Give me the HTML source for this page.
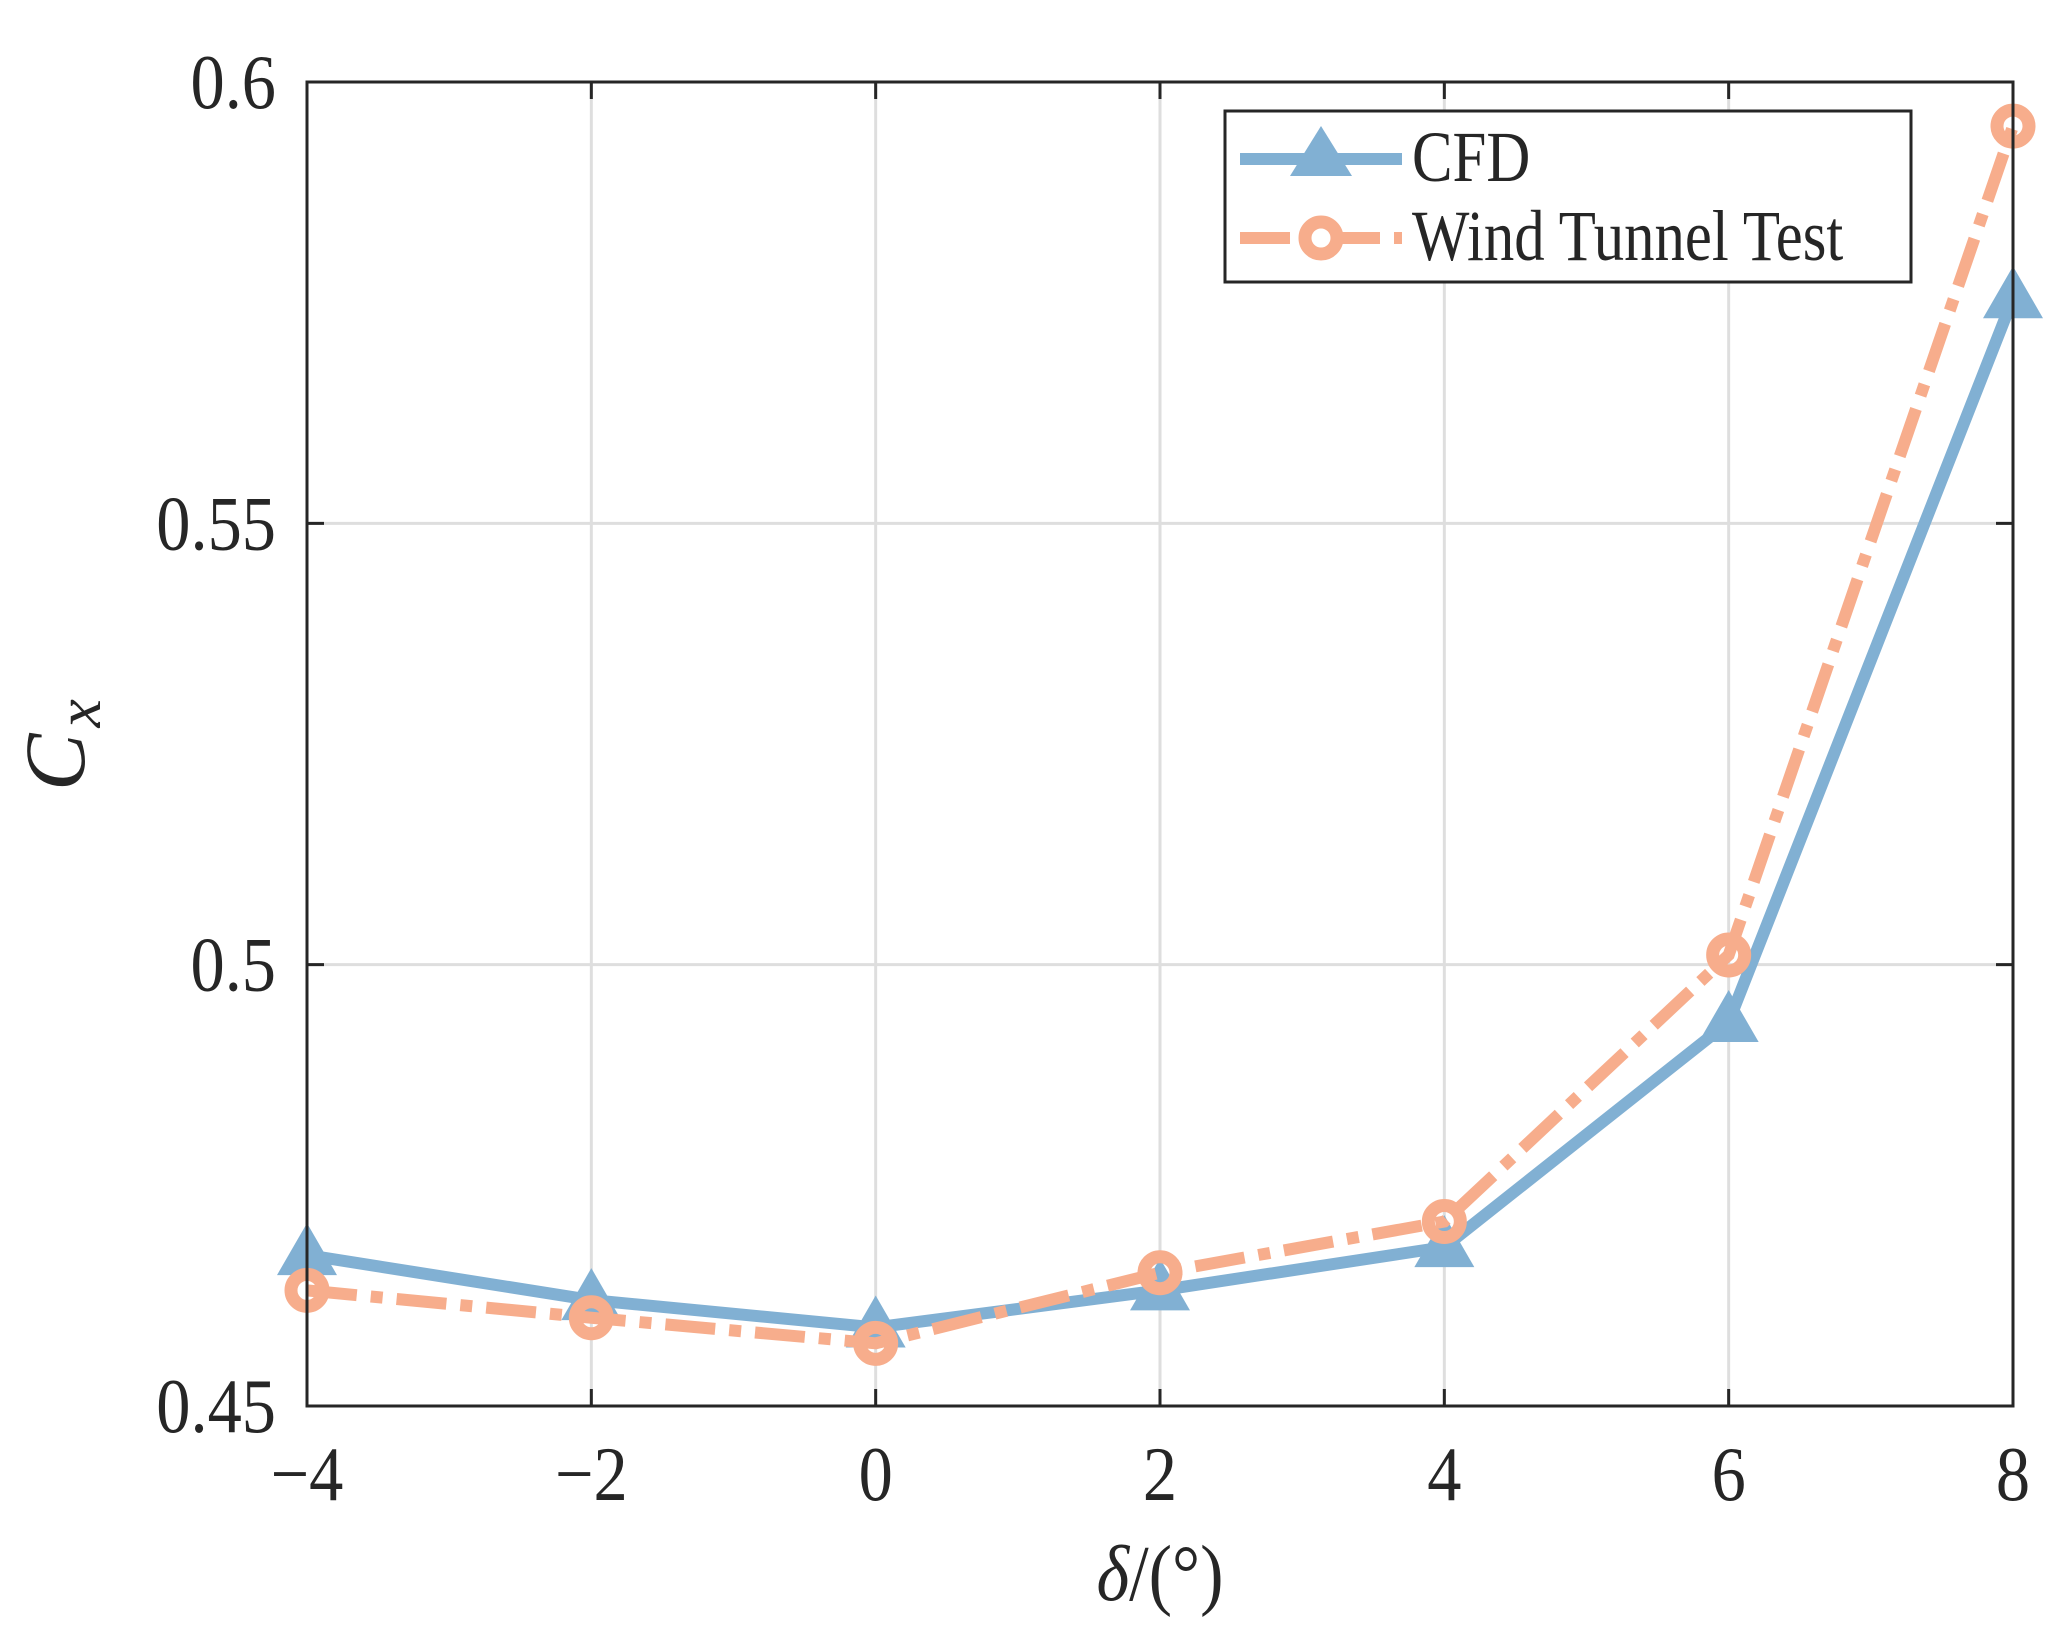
<!DOCTYPE html>
<html><head><meta charset="utf-8"><style>
html,body{margin:0;padding:0;background:#fff}
svg{display:block}
text{font-family:"Liberation Serif",serif;fill:#262626}
</style></head><body>
<svg id="chart" width="2055" height="1630" viewBox="0 0 2055 1630" xmlns="http://www.w3.org/2000/svg">
<g id="grid"></g>
<g id="series"></g>
<rect x="307" y="82" width="1706" height="1324" fill="none" stroke="#262626" stroke-width="3"/>
<g id="ticks"></g>
<text transform="translate(1160,1600) scale(0.95,1.08)" font-size="74" text-anchor="middle"><tspan font-style="italic">δ</tspan>/(°)</text>
<text transform="translate(84,745) rotate(-90)" font-size="86" text-anchor="middle" font-style="italic">C<tspan font-size="64" dy="16" dx="6">x</tspan></text>
<g>
<rect x="1225" y="111" width="686" height="171" fill="#fff" stroke="#262626" stroke-width="3"/>
<g>
<line x1="1240" y1="159" x2="1402" y2="159" stroke="#81b0d3" stroke-width="12"/>
<polygon points="1321,126 1352,176 1290,176" fill="#81b0d3"/>
<text transform="translate(1412,181) scale(0.95,1.12)" font-size="64" fill="#000">CFD</text>
</g>
<g>
<line x1="1240" y1="238" x2="1402" y2="238" stroke="#f7ad8c" stroke-width="12" stroke-dasharray="50,14,12,14"/>
<circle cx="1321" cy="238" r="16" fill="#fff" stroke="#f7ad8c" stroke-width="13"/>
<text transform="translate(1412,260) scale(0.95,1.12)" font-size="64" fill="#000">Wind Tunnel Test</text>
</g>
</g>
</svg>
<script>
const categories = [-4, -2, 0, 2, 4, 6, 8];
const cfdValues = [0.4671, 0.4620, 0.4589, 0.4631, 0.4680, 0.4935, 0.5755];
const windTunnelValues = [0.4631, 0.4600, 0.4571, 0.4651, 0.4709, 0.5011, 0.5950];
const xTickLabels = ["\u22124", "\u22122", "0", "2", "4", "6", "8"];
const yTicks = [0.45, 0.5, 0.55, 0.6];
const yTickLabels = ["0.45", "0.5", "0.55", "0.6"];

const L=307,R=2013,T=82,B=1406;
const xs=v=>L+(v-(-4))/12*(R-L);
const ys=v=>B-(v-0.45)/0.15*(B-T);
const NS="http://www.w3.org/2000/svg";
function mk(tag,attrs,parent){const e=document.createElementNS(NS,tag);for(const k in attrs)e.setAttribute(k,attrs[k]);parent.appendChild(e);return e;}
const grid=document.getElementById('grid'),ticks=document.getElementById('ticks'),series=document.getElementById('series');

categories.forEach((c,i)=>{
  const x=xs(c);
  const g=mk('line',{x1:x,y1:T,x2:x,y2:B,stroke:'#dedede','stroke-width':3},grid);
  
  
  const t1=mk('line',{x1:x,y1:B,x2:x,y2:B-17,stroke:'#262626','stroke-width':3},ticks);
  
  
  const t2=mk('line',{x1:x,y1:T,x2:x,y2:T+17,stroke:'#262626','stroke-width':3},ticks);
  
  
  const lb=mk('text',{transform:`translate(${x},1500) scale(0.95,1.08)`,'font-size':72,'text-anchor':'middle'},ticks);
  lb.textContent=xTickLabels[i];
  
  
});
yTicks.forEach((v,i)=>{
  const y=ys(v);
  const g=mk('line',{x1:L,y1:y,x2:R,y2:y,stroke:'#dedede','stroke-width':3},grid);
  
  
  const t1=mk('line',{x1:L,y1:y,x2:L+17,y2:y,stroke:'#262626','stroke-width':3},ticks);
  
  
  const t2=mk('line',{x1:R,y1:y,x2:R-17,y2:y,stroke:'#262626','stroke-width':3},ticks);
  
  
  const lb=mk('text',{transform:`translate(276,${y+26}) scale(0.95,1.08)`,'font-size':72,'text-anchor':'end'},ticks);
  lb.textContent=yTickLabels[i];
  
  
});

const cfdPts=categories.map((c,i)=>xs(c)+','+ys(cfdValues[i])).join(' ');
const cl=mk('polyline',{points:cfdPts,fill:'none',stroke:'#81b0d3','stroke-width':12,'stroke-linejoin':'round'},series);


categories.forEach((c,i)=>{
  const x=xs(c),y=ys(cfdValues[i]);
  const m=mk('polygon',{points:`${x},${y-32} ${x+30},${y+20} ${x-30},${y+20}`,fill:'#81b0d3'},series);
  
  
});
const wPts=categories.map((c,i)=>xs(c)+','+ys(windTunnelValues[i])).join(' ');
const wl=mk('polyline',{points:wPts,fill:'none',stroke:'#f7ad8c','stroke-width':12,'stroke-dasharray':'50,14,12,14'},series);


categories.forEach((c,i)=>{
  const m=mk('circle',{cx:xs(c),cy:ys(windTunnelValues[i]),r:16,fill:'none',stroke:'#f7ad8c','stroke-width':13},series);
  
  
});
</script>
</body></html>
